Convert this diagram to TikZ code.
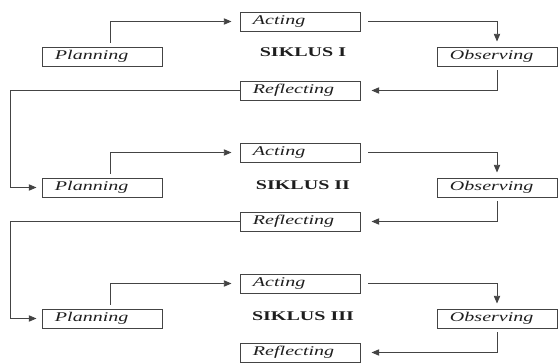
\documentclass[tikz,border=0pt]{standalone}
\usepackage{fontspec}
\setmainfont[FakeStretch=1.5]{Liberation Serif}
\usepackage{xcolor}
\usepackage{tikz}
\usetikzlibrary{
    arrows.meta,
    positioning,
    calc
}
\definecolor{ptkline}{HTML}{444444}
\definecolor{ptktext}{HTML}{1E1E1E}
\tikzset{
    % Stage box of a cycle
    stagebox/.style={
        rectangle,
        draw=ptkline,
        line width=0.65pt,
        text=ptktext,
        font=\fontsize{9.5}{11}\selectfont\itshape,
        minimum width=3cm,
        minimum height=0.475cm,
        text width=2.35cm,
        align=left,
        inner xsep=0.325cm,
        inner ysep=0pt
    },
    % Cycle title
    cycletitle/.style={
        text=ptktext,
        font=\fontsize{9.5}{11}\selectfont\bfseries,
        inner sep=1pt
    },
    % Arrow style
    flowline/.style={
        -{Triangle[length=5.5pt,width=4.5pt]},
        line width=0.65pt,
        color=ptkline
    }
}
\begin{document}
\begin{tikzpicture}[x=0.025cm,y=-0.025cm]
    \useasboundingbox (0,0) rectangle (560,363);
    \coordinate (loopx) at (10,0);

    % SIKLUS I
    \node[stagebox] (act1) at (300,21.5) {Acting};
    \node[stagebox] (plan1) at (102,56.5) {Planning};
    \node[stagebox] (obs1) at (497,56.5) {Observing};
    \node[stagebox] (refl1) at (300,90.5) {Reflecting};
    \node[cycletitle] (sik1) at (303,52) {SIKLUS I};

    % SIKLUS II
    \node[stagebox] (act2) at (300,152.5) {Acting};
    \node[stagebox] (plan2) at (102,187.5) {Planning};
    \node[stagebox] (obs2) at (497,187.5) {Observing};
    \node[stagebox] (refl2) at (300,221.5) {Reflecting};
    \node[cycletitle] (sik2) at (303,185) {SIKLUS II};

    % SIKLUS III
    \node[stagebox] (act3) at (300,283.5) {Acting};
    \node[stagebox] (plan3) at (102,318.5) {Planning};
    \node[stagebox] (obs3) at (497,318.5) {Observing};
    \node[stagebox] (refl3) at (300,352.5) {Reflecting};
    \node[cycletitle] (sik3) at (303,316) {SIKLUS III};

    % connectors
    \foreach \k in {1,2,3}{
        \draw[flowline, shorten <=0.1cm, shorten >=0.2cm]
            ([xshift=0.2cm]plan\k.north) |- (act\k.west);
        \draw[flowline, shorten <=0.2cm, shorten >=0.125cm]
            (act\k.east) -| (obs\k.north);
        \draw[flowline, shorten <=0.1cm, shorten >=0.275cm]
            (obs\k.south) |- (refl\k.east);
    }
    \draw[flowline, shorten >=0.125cm]
        (refl1.west) -- (refl1.west -| loopx) |- (plan2.west);
    \draw[flowline, shorten >=0.125cm]
        (refl2.west) -- (refl2.west -| loopx) |- (plan3.west);
\end{tikzpicture}
\end{document}
